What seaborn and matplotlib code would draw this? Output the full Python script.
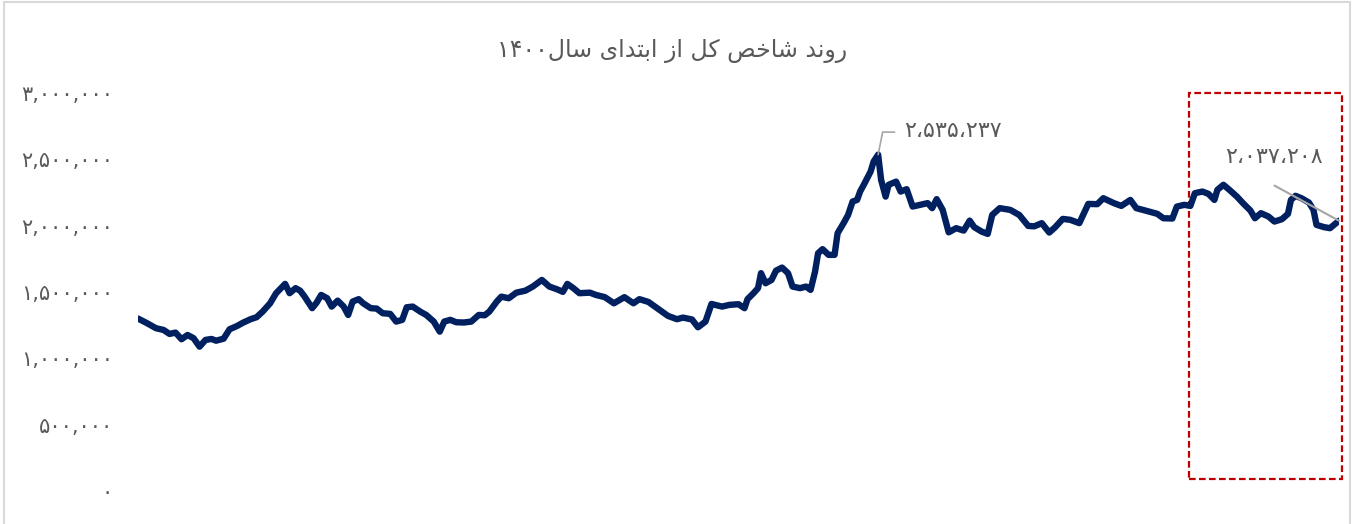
import matplotlib
matplotlib.use("Agg")
import matplotlib.pyplot as plt
import seaborn as sns
import pandas as pd
from matplotlib.patches import Rectangle

# ----------------------------------------
# data: total index (TEDPIX) since start of 1400
# ----------------------------------------
days = [0, 6, 12, 17, 21, 25, 29, 33, 37, 41, 45, 49, 52, 57, 61, 66, 70, 75, 79, 83,
        88, 92, 98, 101, 105, 108, 111, 116, 119, 122, 126, 129, 133, 137, 140, 143, 147, 150, 155, 159,
        163, 168, 172, 176, 179, 183, 188, 192, 197, 201, 204, 208, 212, 217, 222, 227, 231, 234, 239, 242,
        247, 252, 258, 263, 269, 274, 279, 283, 286, 290, 294, 301, 305, 311, 317, 324, 330, 334, 340, 345,
        353, 359, 363, 369, 373, 378, 382, 389, 394, 400, 404, 406, 410, 413, 415, 418, 422, 425, 429, 433,
        436, 441, 445, 448, 451, 453, 456, 460, 464, 466, 470, 473, 476, 479, 481, 484, 488, 490, 493, 495,
        498, 500, 505, 508, 512, 516, 521, 526, 529, 532, 536, 540, 545, 550, 554, 557, 562, 566, 569, 574,
        581, 587, 593, 597, 602, 607, 611, 616, 621, 627, 633, 639, 643, 650, 655, 661, 665, 671, 679, 683,
        689, 692, 697, 701, 704, 709, 713, 717, 719, 723, 727, 732, 736, 741, 744, 748, 753, 757, 762, 766,
        768, 771, 775, 780, 783, 785, 790, 794, 798, 800]

index_k = [1300, 1265, 1227, 1214, 1184, 1194, 1144, 1176, 1152, 1088, 1139, 1146, 1133, 1148, 1219, 1244, 1269, 1295, 1310, 1352,
           1415, 1491, 1561, 1491, 1529, 1510, 1465, 1378, 1420, 1478, 1453, 1390, 1435, 1390, 1327, 1428, 1446, 1415, 1378, 1375,
           1340, 1335, 1277, 1290, 1385, 1390, 1352, 1327, 1277, 1201, 1277, 1290, 1272, 1270, 1277, 1327, 1325, 1352, 1428, 1465,
           1453, 1495, 1510, 1541, 1591, 1541, 1521, 1501, 1561, 1529, 1491, 1495, 1478, 1461, 1415, 1461, 1415, 1446, 1425, 1385,
           1320, 1295, 1307, 1293, 1234, 1277, 1410, 1390, 1403, 1408, 1378, 1446, 1491, 1529, 1642, 1566, 1591, 1661, 1684, 1642,
           1541, 1529, 1541, 1516, 1654, 1792, 1823, 1780, 1780, 1943, 2019, 2081, 2182, 2194, 2257, 2320, 2408, 2483, 2535.237, 2345,
           2219, 2308, 2332, 2257, 2275, 2144, 2157, 2170, 2132, 2200, 2119, 1950, 1981, 1963, 2038, 1989, 1955, 1938, 2081, 2132,
           2119, 2081, 1998, 1995, 2019, 1948, 1989, 2051, 2044, 2019, 2164, 2162, 2207, 2170, 2149, 2194, 2132, 2114, 2089, 2056,
           2054, 2144, 2157, 2149, 2245, 2257, 2240, 2194, 2270, 2308, 2270, 2219, 2170, 2114, 2056, 2094, 2069, 2031, 2049, 2089,
           2194, 2225, 2207, 2174, 2119, 2006, 1989, 1981, 2019, 2037.208]

y_ticks = [0, 500000, 1000000, 1500000, 2000000, 2500000, 3000000]
y_labels = ["۰", "۵۰۰,۰۰۰", "۱,۰۰۰,۰۰۰", "۱,۵۰۰,۰۰۰", "۲,۰۰۰,۰۰۰", "۲,۵۰۰,۰۰۰", "۳,۰۰۰,۰۰۰"]

title = "روند شاخص کل از ابتدای سال۱۴۰۰"
peak_label = "۲،۵۳۵،۲۳۷"
last_label = "۲،۰۳۷،۲۰۸"
highlight_from = 700  # day where the red box starts

df = pd.DataFrame({"day": days, "index": [v * 1000 for v in index_k]})

# ----------------------------------------
# tiny Persian shaper (matplotlib has no bidi / joining)
# forms: isolated, final, initial, medial
# ----------------------------------------
FORMS = {
    "ا": ("\uFE8D", "\uFE8E", None, None),
    "ب": ("\uFE8F", "\uFE90", "\uFE91", "\uFE92"),
    "ت": ("\uFE95", "\uFE96", "\uFE97", "\uFE98"),
    "خ": ("\uFEA5", "\uFEA6", "\uFEA7", "\uFEA8"),
    "د": ("\uFEA9", "\uFEAA", None, None),
    "ر": ("\uFEAD", "\uFEAE", None, None),
    "ز": ("\uFEAF", "\uFEB0", None, None),
    "س": ("\uFEB1", "\uFEB2", "\uFEB3", "\uFEB4"),
    "ش": ("\uFEB5", "\uFEB6", "\uFEB7", "\uFEB8"),
    "ص": ("\uFEB9", "\uFEBA", "\uFEBB", "\uFEBC"),
    "ل": ("\uFEDD", "\uFEDE", "\uFEDF", "\uFEE0"),
    "ن": ("\uFEE5", "\uFEE6", "\uFEE7", "\uFEE8"),
    "و": ("\uFEED", "\uFEEE", None, None),
    "ک": ("\uFB8E", "\uFB8F", "\uFB90", "\uFB91"),
    "ی": ("\uFBFC", "\uFBFD", "\uFBFE", "\uFBFF"),
}


def rtl(text):
    shaped = []
    for i, ch in enumerate(text):
        if ch not in FORMS:
            shaped.append(ch)
            continue
        prev = text[i - 1] if i > 0 else ""
        nxt = text[i + 1] if i + 1 < len(text) else ""
        j_prev = prev in FORMS and FORMS[prev][2] is not None
        j_next = nxt in FORMS and FORMS[ch][2] is not None
        iso, fin, ini, med = FORMS[ch]
        if j_prev and j_next:
            shaped.append(med)
        elif j_prev:
            shaped.append(fin)
        elif j_next:
            shaped.append(ini)
        else:
            shaped.append(iso)
    # group digit runs so they stay left-to-right
    runs = []
    for ch in shaped:
        if runs and runs[-1][0] == ch.isdigit():
            runs[-1][1].append(ch)
        else:
            runs.append((ch.isdigit(), [ch]))
    out = ""
    for is_num, chars in reversed(runs):
        out += "".join(chars if is_num else reversed(chars))
    return out


# ----------------------------------------
# plot
# ----------------------------------------
sns.set_style("white")
plt.rcParams["font.family"] = ["DejaVu Sans"]

fig = plt.figure(figsize=(13.55, 5.24), dpi=100)
ax = fig.add_axes([138 / 1355, 33 / 524, 1201 / 1355, 398 / 524])

sns.lineplot(data=df, x="day", y="index", ax=ax, color="#002060", linewidth=4.6,
             solid_joinstyle="round", solid_capstyle="round")

ax.set_xlim(0, 800)
ax.set_ylim(0, 3000000)
ax.set_yticks(y_ticks)
ax.set_yticklabels(y_labels, color="#595959", fontsize=15)
ax.set_xticks([])
ax.tick_params(axis="y", length=0, pad=18)
ax.set_xlabel("")
ax.set_ylabel("")
sns.despine(ax=ax, left=True, bottom=True)

fig.text(0.496, 0.902, rtl(title), ha="center", va="center", fontsize=17, color="#595959")

# peak label with leader line
i_peak = index_k.index(max(index_k))
px, py = days[i_peak], index_k[i_peak] * 1000
ax.plot([px, px + 3, px + 11], [py, py + 170000, py + 170000], color="#a6a6a6", lw=1.2)
ax.text(px + 50, py + 175000, peak_label, ha="center", va="center", fontsize=16, color="#595959")

# last value label with leader line
lx, ly = days[-1], index_k[-1] * 1000
ax.plot([lx - 43, lx], [ly + 265000, ly], color="#a6a6a6", lw=1.5, clip_on=False)
ax.text(lx - 43, ly + 480000, last_label, ha="center", va="center", fontsize=16, color="#595959")

# red dashed highlight box over the recent period
ax.add_patch(Rectangle((highlight_from, 90000), 802 - highlight_from, 2910000, fill=False,
                       edgecolor="#c00000", lw=1.6, ls=(0, (3, 1.5)), clip_on=False))

# chart area border
fig.patches.append(Rectangle((0.003, -0.01), 0.993, 1.006, transform=fig.transFigure,
                             fill=False, edgecolor="#d9d9d9", lw=1.5))

plt.savefig("out.png", dpi=100)
plt.close()
